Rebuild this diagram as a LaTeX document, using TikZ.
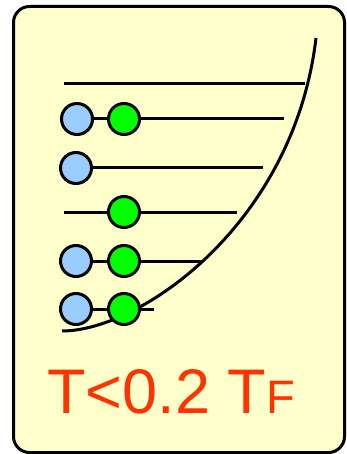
\documentclass[tikz,border=0pt]{standalone}
\usepackage{fontspec}
\setmainfont{Liberation Sans}
\definecolor{bg}{HTML}{FFFFCC}
\definecolor{bl}{HTML}{99CCFF}
\definecolor{gr}{HTML}{00FF00}
\definecolor{tx}{HTML}{FF3300}
\begin{document}
\begin{tikzpicture}[x=1pt,y=-1pt,
  lvl/.style={line width=3pt},
  ball/.style={circle,draw,line width=3pt,minimum size=31pt,inner sep=0pt},
  bball/.style={ball,fill=bl},
  gball/.style={ball,fill=gr}]
\useasboundingbox (0,0) rectangle (346,454);
\draw[line width=3pt,fill=bg,rounded corners=16pt] (13.5,6.5) rectangle (344.5,452.5);
% levels
\coordinate (l1a) at (64,84); \coordinate (l1b) at (305,84);
\draw[lvl] (l1a) -- (l1b);
\coordinate (l2b) at (284,119);
\coordinate (l3b) at (263,168);
\coordinate (l4a) at (64,212); \coordinate (l4b) at (237,212);
\coordinate (l5b) at (203,261);
\coordinate (l6b) at (154,309);
\draw[lvl] (77,119) -- (l2b);
\draw[lvl] (76,168) -- (l3b);
\draw[lvl] (l4a) -- (l4b);
\draw[lvl] (76,261) -- (l5b);
\draw[lvl] (76,309) -- (l6b);
% curve
\coordinate (cs) at (62,331); \coordinate (ce) at (316,38);
\draw[line width=3pt] (cs) .. controls (140,331) and (294,224) .. (ce);
% balls
\node[bball] (b2) at (77,119) {};
\node[gball] (g2) at (124,119) {};
\node[bball] (b3) at (76,168) {};
\node[gball] (g4) at (124,212) {};
\node[bball] (b5) at (76,261) {};
\node[gball] (g5) at (124,261) {};
\node[bball] (b6) at (76,309) {};
\node[gball] (g6) at (124,309) {};
% label
\node[anchor=base west,inner sep=0pt,text=tx,font=\fontsize{63}{63}\selectfont] (lab) at (47,413) {T<0.2 T{\fontsize{47}{47}\selectfont F}};
\end{tikzpicture}
\end{document}
